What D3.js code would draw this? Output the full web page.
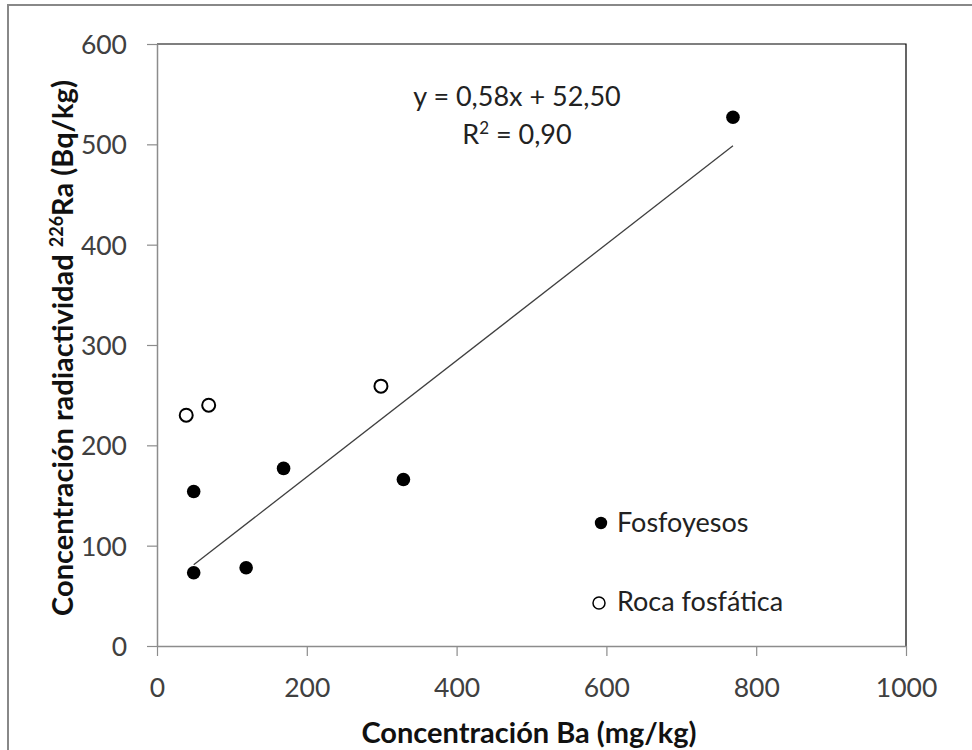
<!DOCTYPE html>
<html>
<head>
<meta charset="utf-8">
<script src="https://cdn.jsdelivr.net/npm/d3@7"></script>
<style>
  body { margin: 0; background: #fff; }
  text { font-family: Lato, "Open Sans", sans-serif; }
</style>
</head>
<body>
<div id="chart"></div>
<script>

// Fosfoyesos (filled) and Roca fosfatica (open)
const fosfoBa = [49, 49, 119, 169, 329, 769];
const fosfoRa = [73, 154, 78, 177, 166, 527];
const rocaBa = [39, 69, 299];
const rocaRa = [230, 240, 259];

const xTicks = [0, 200, 400, 600, 800, 1000];
const yTicks = [0, 100, 200, 300, 400, 500, 600];

// trend line y = 0,58x + 52,50
const slope = 0.58, intercept = 52.5;

const W = 972, H = 750;
const margin = { top: 44, right: 66, bottom: 104, left: 157 },
    width = W - margin.left - margin.right,
    height = H - margin.top - margin.bottom;

const root = d3.select("#chart").append("svg")
    .attr("width", W)
    .attr("height", H);

// outer frame
root.append("rect")
    .attr("x", 8).attr("y", 5)
    .attr("width", W).attr("height", H)
    .attr("fill", "none")
    .attr("stroke", "#888")
    .attr("stroke-width", 2);

const svg = root.append("g")
    .attr("transform", `translate(${margin.left},${margin.top})`);

const xScale = d3.scaleLinear().domain([0, 1000]).range([0, width]);
const yScale = d3.scaleLinear().domain([0, 600]).range([height, 0]);

// plot border top/right (black)
svg.append("path")
    .attr("d", `M0,0H${width}V${height}`)
    .attr("fill", "none")
    .attr("stroke", "#000")
    .attr("stroke-width", 1.2);

// axes
const xAxis = svg.append("g")
    .attr("transform", `translate(0,${height})`)
    .call(d3.axisBottom(xScale).tickValues(xTicks).tickSize(10).tickSizeOuter(0).tickFormat(d3.format("d")));

const yAxis = svg.append("g")
    .call(d3.axisLeft(yScale).tickValues(yTicks).tickSize(10).tickSizeOuter(0).tickFormat(d3.format("d")));

[xAxis, yAxis].forEach(a => {
    a.select(".domain").attr("stroke", "#8c8c8c").attr("stroke-width", 1.5);
    a.selectAll(".tick line").attr("stroke", "#8c8c8c").attr("stroke-width", 1.2);
    a.selectAll(".tick text")
        .attr("fill", "#404040")
        .style("font-size", "26.5px")
        .style("font-family", "Lato, sans-serif");
});
xAxis.selectAll(".tick text").attr("dy", 0).attr("y", 51);
yAxis.selectAll(".tick text").attr("x", -30).attr("dy", "0.36em");

// trend line
const x0 = d3.min(fosfoBa), x1 = d3.max(fosfoBa);
svg.append("line")
    .attr("x1", xScale(x0)).attr("y1", yScale(slope * x0 + intercept))
    .attr("x2", xScale(x1)).attr("y2", yScale(slope * x1 + intercept))
    .attr("stroke", "#404040")
    .attr("stroke-width", 1.3);

// points
svg.selectAll(".fosfo")
    .data(fosfoBa)
    .enter().append("circle")
    .attr("class", "fosfo")
    .attr("cx", d => xScale(d))
    .attr("cy", (d, i) => yScale(fosfoRa[i]))
    .attr("r", 6.8)
    .attr("fill", "#000");

svg.selectAll(".roca")
    .data(rocaBa)
    .enter().append("circle")
    .attr("class", "roca")
    .attr("cx", d => xScale(d))
    .attr("cy", (d, i) => yScale(rocaRa[i]))
    .attr("r", 6.5)
    .attr("fill", "#fff")
    .attr("stroke", "#000")
    .attr("stroke-width", 2);

// equation
const eqFont = "27px";
svg.append("text")
    .attr("x", 360).attr("y", 62)
    .attr("text-anchor", "middle")
    .attr("fill", "#222")
    .style("font-size", eqFont)
    .text("y = 0,58x + 52,50");
const r2 = svg.append("text")
    .attr("x", 360).attr("y", 100)
    .attr("text-anchor", "middle")
    .attr("fill", "#222")
    .style("font-size", eqFont);
r2.append("tspan").text("R");
r2.append("tspan").attr("dy", -10).style("font-size", "17px").text("2");
r2.append("tspan").attr("dy", 10).text(" = 0,90");

// legend
const legend = svg.append("g").attr("transform", "translate(444,479)");
legend.append("circle").attr("cx", 0).attr("cy", 0).attr("r", 6.2).attr("fill", "#000");
legend.append("text").attr("x", 16).attr("y", 9).attr("fill", "#222")
    .style("font-size", eqFont).text("Fosfoyesos");
legend.append("circle").attr("cx", -2).attr("cy", 80).attr("r", 6)
    .attr("fill", "#fff").attr("stroke", "#000").attr("stroke-width", 1.5);
legend.append("text").attr("x", 16).attr("y", 88).attr("fill", "#222")
    .style("font-size", eqFont).text("Roca fosfática");

// axis titles
root.append("text")
    .attr("x", 529)
    .attr("y", 743)
    .attr("text-anchor", "middle")
    .attr("fill", "#111")
    .style("font-size", "29px")
    .style("font-weight", "bold")
    .text("Concentración Ba (mg/kg)");

const yTitle = root.append("text")
    .attr("transform", "translate(73,348) rotate(-90)")
    .attr("text-anchor", "middle")
    .attr("fill", "#111")
    .style("font-size", "29px")
    .style("font-weight", "bold");
yTitle.append("tspan").text("Concentración radiactividad ");
yTitle.append("tspan").attr("dy", -10).style("font-size", "18px").text("226");
yTitle.append("tspan").attr("dy", 10).text("Ra (Bq/kg)");

</script>
</body>
</html>
